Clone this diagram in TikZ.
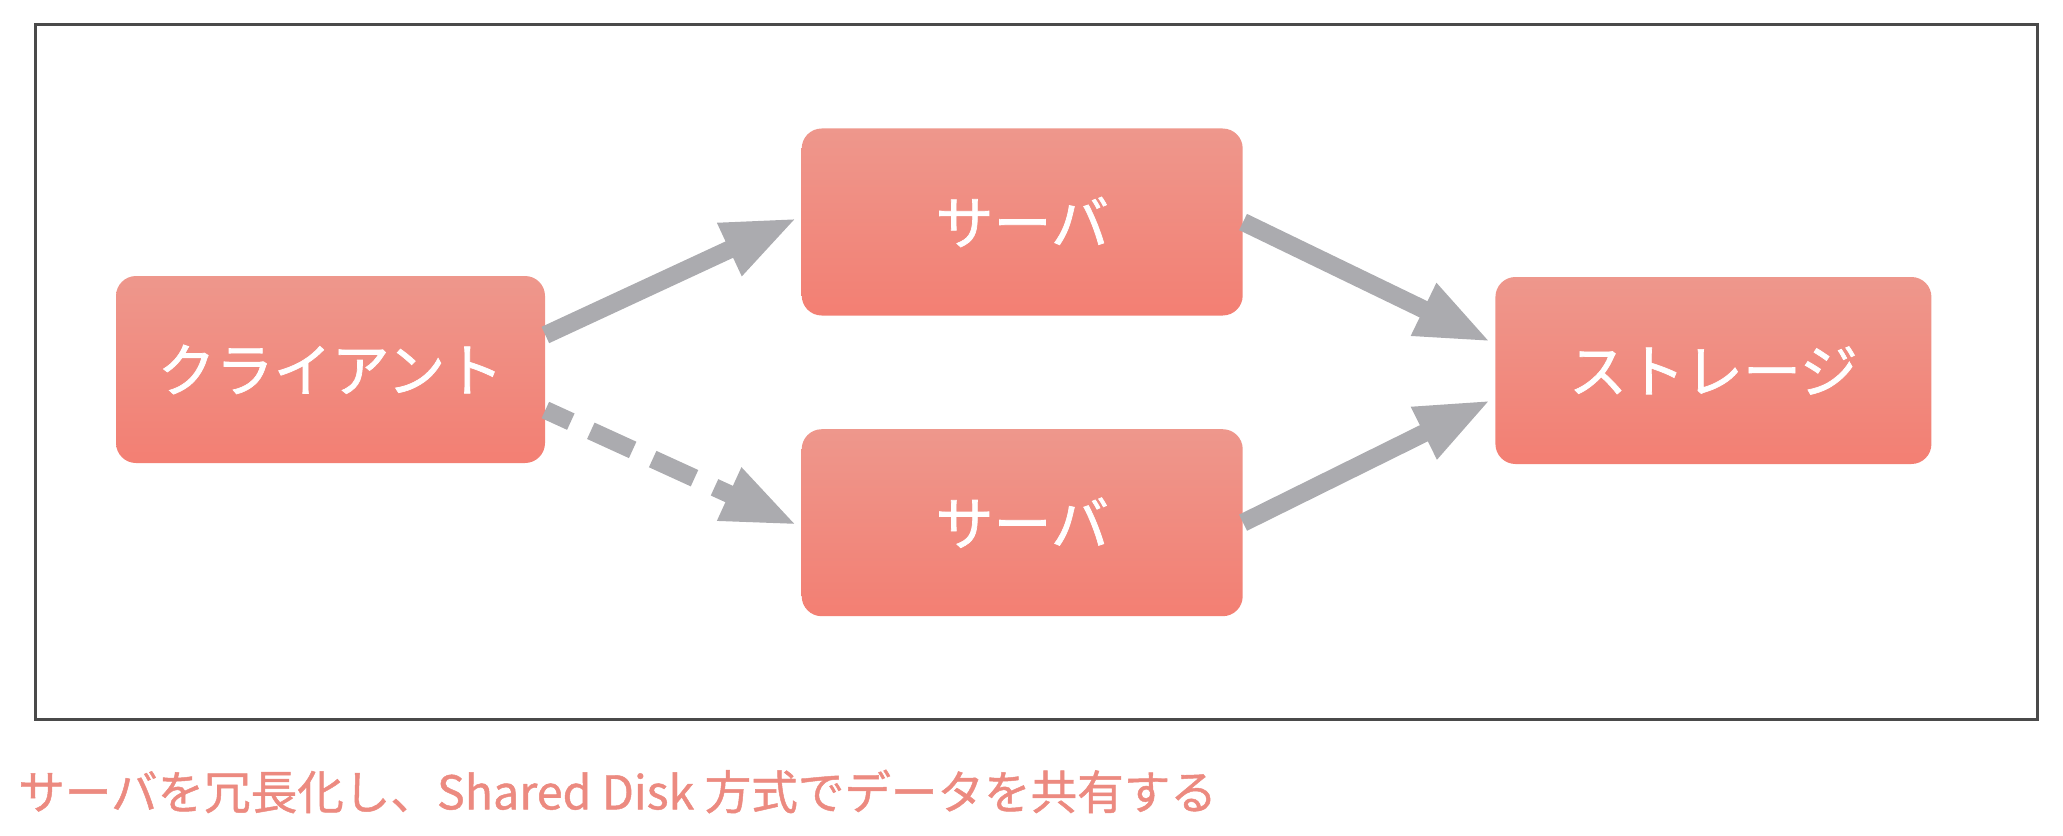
\documentclass[tikz,border=0pt]{standalone}
\usepackage{fontspec}
\setmainfont{Noto Sans CJK JP}
\newfontfamily\boxfont{Noto Sans CJK JP}[FakeBold=1.2]
\newfontfamily\capfont{Noto Sans CJK JP}[FakeBold=1]
\usetikzlibrary{arrows.meta, positioning}
\definecolor{boxfill}{HTML}{F37F73}
\definecolor{boxtop}{HTML}{EE978C}
\definecolor{arrowgray}{HTML}{ABABAF}
\definecolor{framegray}{HTML}{4A4A4A}
\definecolor{captionred}{HTML}{EC8A80}
\tikzset{
    block/.style={rectangle, rounded corners=0.4cm, draw=none, top color=boxtop, middle color=boxfill, bottom color=boxfill, text=white, text centered, minimum height=3.74cm, minimum width=8.7cm, font=\boxfont\fontsize{33}{38}\selectfont, inner sep=0pt},
    arrow/.style={draw=arrowgray, line width=0.36cm, -{Triangle[length=1.5cm, width=1.06cm]}},
    dasharrow/.style={arrow, dash pattern=on 0.92cm off 0.44cm, dash phase=0.36cm}
}

\begin{document}
\begin{tikzpicture}
    \useasboundingbox (0,0) rectangle (41.26,16.7);
    \draw [framegray, line width=0.06cm] (0.7,2.32) rectangle (40.74,16.2);

    \node (client) [block, minimum width=8.58cm] at (6.61,9.31) {クライアント};
    \node (srva) [block, minimum width=8.82cm, right=5.12cm of client, yshift=2.95cm] {サーバ};
    \node (srvb) [block, minimum width=8.82cm, below=2.26cm of srva] {サーバ};
    \node (store) [block, minimum width=8.72cm, right=5.04cm of srva, yshift=-2.97cm] {ストレージ};

    \draw [arrow] ([yshift=0.69cm]client.east) -- ([xshift=-0.08cm, yshift=0.08cm]srva.west);
    \draw [dasharrow] ([yshift=-0.81cm]client.east) -- ([xshift=-0.08cm, yshift=-0.05cm]srvb.west);
    \draw [arrow] (srva.east) -- ([xshift=-0.08cm, yshift=0.57cm]store.west);
    \draw [arrow] (srvb.east) -- ([xshift=-0.08cm, yshift=-0.59cm]store.west);

    \node (caption) [anchor=west, inner sep=0pt, text=captionred, font=\capfont\fontsize{26.5}{31}\selectfont] at (0.36,0.87) {サーバを冗長化し、Shared Disk 方式でデータを共有する};
\end{tikzpicture}
\end{document}
